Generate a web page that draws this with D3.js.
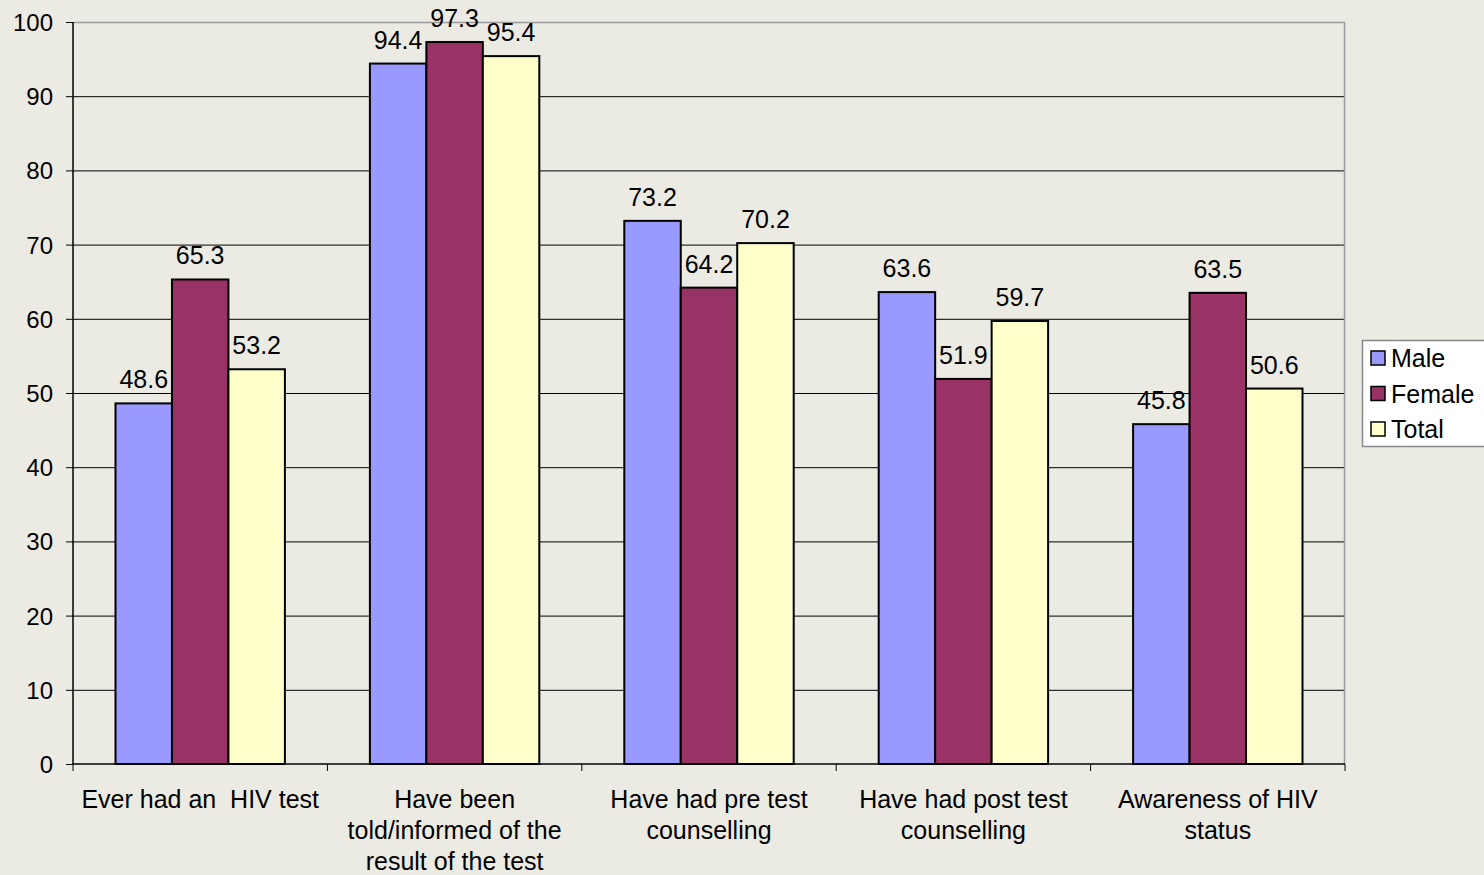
<!DOCTYPE html>
<html>
<head>
<meta charset="utf-8">
<script src="https://cdn.jsdelivr.net/npm/d3@7"></script>
<style>
  body { margin: 0; background: #ECEBE3; }
  text { font-family: "Liberation Sans", Arial, sans-serif; fill: #000; }
</style>
</head>
<body>
<div id="chart"></div>
<script>
// categories (lines of each x label)
var categories = [
  ["Ever had an  HIV test"],
  ["Have been", "told/informed of the", "result of the test"],
  ["Have had pre test", "counselling"],
  ["Have had post test", "counselling"],
  ["Awareness of HIV", "status"]
];
var seriesNames = ["Male", "Female", "Total"];
var male = [48.6, 94.4, 73.2, 63.6, 45.8];
var female = [65.3, 97.3, 64.2, 51.9, 63.5];
var total = [53.2, 95.4, 70.2, 59.7, 50.6];
var yTicks = [0, 10, 20, 30, 40, 50, 60, 70, 80, 90, 100];

var colors = ["#9999FF", "#993366", "#FFFFCC"];
var series = [male, female, total];

var W = 1484, H = 875;
var margin = { left: 73, top: 22, right: 139, bottom: 111 };
var width = W - margin.left - margin.right;
var height = H - margin.top - margin.bottom;

var svg = d3.select("#chart").append("svg")
  .attr("width", W).attr("height", H);

var g = svg.append("g")
  .attr("transform", "translate(" + margin.left + "," + margin.top + ")");

var x0 = d3.scaleBand().domain(d3.range(categories.length)).range([0, width]);
var x1 = d3.scaleBand().domain(d3.range(seriesNames.length))
  .range([42.5, x0.bandwidth() - 42.5]);
var y = d3.scaleLinear().domain([0, 100]).range([height, 0]);

// grid lines
g.selectAll(".grid").data(yTicks.slice(1, -1)).enter().append("line")
  .attr("x1", 0).attr("x2", width)
  .attr("y1", function (d) { return y(d) + 0.5; })
  .attr("y2", function (d) { return y(d) + 0.5; })
  .attr("stroke", "#000").attr("stroke-width", 1);

// top and right borders
g.append("line").attr("x1", 0).attr("x2", width).attr("y1", 0.5).attr("y2", 0.5)
  .attr("stroke", "#999").attr("stroke-width", 1.5);
g.append("line").attr("x1", width - 0.5).attr("x2", width - 0.5).attr("y1", 0).attr("y2", height)
  .attr("stroke", "#999").attr("stroke-width", 1.5);

// bars
var groups = g.selectAll(".grp").data(categories).enter().append("g")
  .attr("transform", function (d, i) { return "translate(" + x0(i) + ",0)"; });

groups.each(function (c, i) {
  var grp = d3.select(this);
  series.forEach(function (s, j) {
    grp.append("rect")
      .attr("x", x1(j))
      .attr("y", y(s[i]))
      .attr("width", x1.bandwidth())
      .attr("height", height - y(s[i]))
      .attr("fill", colors[j])
      .attr("stroke", "#000").attr("stroke-width", 2);
    grp.append("text")
      .attr("x", x1(j) + x1.bandwidth() / 2)
      .attr("y", y(s[i]) - 15)
      .attr("text-anchor", "middle")
      .attr("font-size", 25)
      .text(s[i].toFixed(1));
  });
});

// y axis
var yAxis = d3.axisLeft(y).tickValues(yTicks).tickSize(7).tickPadding(13);
var ya = g.append("g").call(yAxis);
ya.select(".domain").attr("stroke", "#000").attr("stroke-width", 1.5).attr("d", "M0," + height + "V0");
ya.selectAll(".tick line").attr("stroke", "#000");
ya.selectAll(".tick text").attr("font-size", 24).attr("font-family", null).attr("dy", "0.35em");

// x axis
var xa = g.append("g").attr("transform", "translate(0," + height + ")");
xa.append("line").attr("x1", 0).attr("x2", width).attr("y1", 0).attr("y2", 0)
  .attr("stroke", "#000").attr("stroke-width", 1.5);
xa.selectAll(".xt").data(d3.range(categories.length + 1)).enter().append("line")
  .attr("x1", function (d) { return d * x0.step(); })
  .attr("x2", function (d) { return d * x0.step(); })
  .attr("y1", 0).attr("y2", 7).attr("stroke", "#000");

xa.selectAll(".xl").data(categories).enter().append("text")
  .attr("text-anchor", "middle")
  .attr("font-size", 25)
  .attr("transform", function (d, i) { return "translate(" + (x0(i) + x0.bandwidth() / 2) + ",44)"; })
  .style("white-space", "pre")
  .each(function (lines) {
    var t = d3.select(this);
    lines.forEach(function (l, k) {
      t.append("tspan").attr("x", 0).attr("dy", k === 0 ? 0 : 31).text(l);
    });
  });

// legend
var lg = svg.append("g").attr("transform", "translate(1362,340)");
lg.append("rect").attr("x", 0.5).attr("y", 0.5).attr("width", 130).attr("height", 106)
  .attr("fill", "#fff").attr("stroke", "#888").attr("stroke-width", 1.5);
seriesNames.forEach(function (n, j) {
  lg.append("rect").attr("x", 9).attr("y", 11 + j * 35.5).attr("width", 14).attr("height", 14)
    .attr("fill", colors[j]).attr("stroke", "#000").attr("stroke-width", 1.5);
  lg.append("text").attr("x", 29).attr("y", 27 + j * 35.5).attr("font-size", 25).text(n);
});
</script>
</body>
</html>
